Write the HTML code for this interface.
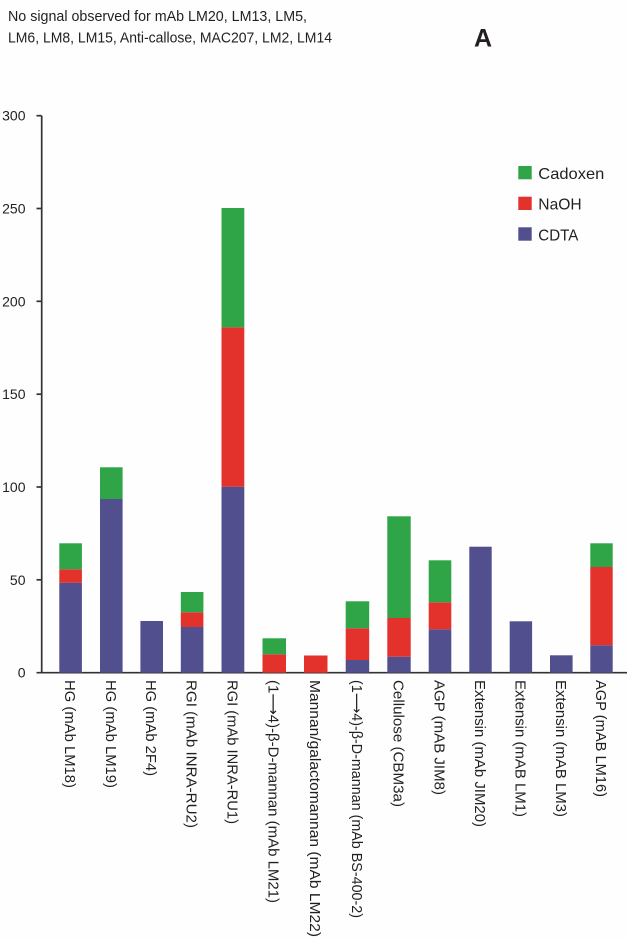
<!DOCTYPE html>
<html>
<head>
<meta charset="utf-8">
<style>
html,body{margin:0;padding:0;background:#fefefe;}
svg{display:block;}
text{font-family:"Liberation Sans","DejaVu Sans",sans-serif;fill:#231f20;}
</style>
</head>
<body>
<svg width="627" height="939" viewBox="0 0 627 939" xmlns="http://www.w3.org/2000/svg">
<rect x="0" y="0" width="627" height="939" fill="#fefefe"/>
<!-- header -->
<text x="8" y="20.8" font-size="15" textLength="299" lengthAdjust="spacingAndGlyphs">No signal observed for mAb LM20, LM13, LM5,</text>
<text x="8" y="42.7" font-size="15" textLength="324" lengthAdjust="spacingAndGlyphs">LM6, LM8, LM15, Anti-callose, MAC207, LM2, LM14</text>
<text x="474" y="46.7" font-size="25" font-weight="bold" fill="#000">A</text>

<!-- y axis -->
<g stroke="#333" stroke-width="1.7" fill="none">
<line x1="41.7" y1="115.7" x2="41.7" y2="672.7"/>
<line x1="36.5" y1="115.7" x2="41.7" y2="115.7"/>
<line x1="36.5" y1="208.5" x2="41.7" y2="208.5"/>
<line x1="36.5" y1="301.3" x2="41.7" y2="301.3"/>
<line x1="36.5" y1="394.2" x2="41.7" y2="394.2"/>
<line x1="36.5" y1="487" x2="41.7" y2="487"/>
<line x1="36.5" y1="579.8" x2="41.7" y2="579.8"/>
<line x1="36.5" y1="672.7" x2="627" y2="672.7"/>
</g>
<g font-size="14" text-anchor="end">
<text x="25.5" y="120.7">300</text>
<text x="25.5" y="213.5">250</text>
<text x="25.5" y="306.3">200</text>
<text x="25.5" y="399.2">150</text>
<text x="25.5" y="492">100</text>
<text x="25.5" y="584.8">50</text>
<text x="25.5" y="677.7">0</text>
</g>

<!-- bars -->
<g>
<rect x="59.3" y="582.7" width="22.6" height="90" fill="#524f8e"/>
<rect x="59.3" y="569.3" width="22.6" height="13.4" fill="#e2322b"/>
<rect x="59.3" y="543.3" width="22.6" height="26" fill="#2fa547"/>
<rect x="100" y="499" width="22.6" height="173.7" fill="#524f8e"/>
<rect x="100" y="467.3" width="22.6" height="31.7" fill="#2fa547"/>
<rect x="140.4" y="621" width="22.6" height="51.7" fill="#524f8e"/>
<rect x="180.8" y="627" width="22.6" height="45.7" fill="#524f8e"/>
<rect x="180.8" y="612.3" width="22.6" height="14.7" fill="#e2322b"/>
<rect x="180.8" y="592" width="22.6" height="20.3" fill="#2fa547"/>
<rect x="221.5" y="486.7" width="22.8" height="186" fill="#524f8e"/>
<rect x="221.5" y="327.3" width="22.8" height="159.4" fill="#e2322b"/>
<rect x="221.5" y="208" width="22.8" height="119.3" fill="#2fa547"/>
<rect x="262.5" y="654.3" width="23.5" height="18.4" fill="#e2322b"/>
<rect x="262.5" y="638.3" width="23.5" height="16" fill="#2fa547"/>
<rect x="304" y="655.5" width="23.5" height="17.2" fill="#e2322b"/>
<rect x="345.7" y="660" width="23.5" height="12.7" fill="#524f8e"/>
<rect x="345.7" y="628.3" width="23.5" height="31.7" fill="#e2322b"/>
<rect x="345.7" y="601.3" width="23.5" height="27" fill="#2fa547"/>
<rect x="387.3" y="656.7" width="23.4" height="16" fill="#524f8e"/>
<rect x="387.3" y="618" width="23.4" height="38.7" fill="#e2322b"/>
<rect x="387.3" y="516.3" width="23.4" height="101.7" fill="#2fa547"/>
<rect x="428.7" y="629.3" width="22.6" height="43.4" fill="#524f8e"/>
<rect x="428.7" y="602.3" width="22.6" height="27" fill="#e2322b"/>
<rect x="428.7" y="560.3" width="22.6" height="42" fill="#2fa547"/>
<rect x="469.3" y="546.7" width="22.4" height="126" fill="#524f8e"/>
<rect x="509.7" y="621.3" width="22.4" height="51.4" fill="#524f8e"/>
<rect x="550" y="655.3" width="22.6" height="17.4" fill="#524f8e"/>
<rect x="590.3" y="645.3" width="22.4" height="27.4" fill="#524f8e"/>
<rect x="590.3" y="567" width="22.4" height="78.3" fill="#e2322b"/>
<rect x="590.3" y="543.3" width="22.4" height="23.7" fill="#2fa547"/>
</g>

<!-- legend -->
<rect x="518.3" y="166" width="13.4" height="13.3" fill="#2fa547"/>
<rect x="518.3" y="196.7" width="13.4" height="13.3" fill="#e2322b"/>
<rect x="518.3" y="227.3" width="13.4" height="13.4" fill="#524f8e"/>
<g font-size="16">
<text x="538.3" y="178.8" textLength="66" lengthAdjust="spacingAndGlyphs">Cadoxen</text>
<text x="538.3" y="209.6" textLength="43.4" lengthAdjust="spacingAndGlyphs">NaOH</text>
<text x="538.3" y="240.3" textLength="40" lengthAdjust="spacingAndGlyphs">CDTA</text>
</g>

<!-- x labels -->
<g font-size="15">
<text transform="translate(65.1,680) rotate(90)" textLength="108" lengthAdjust="spacingAndGlyphs">HG (mAb LM18)</text>
<text transform="translate(105.8,680) rotate(90)" textLength="108" lengthAdjust="spacingAndGlyphs">HG (mAb LM19)</text>
<text transform="translate(146.2,680) rotate(90)" textLength="96" lengthAdjust="spacingAndGlyphs">HG (mAb 2F4)</text>
<text transform="translate(186.6,680) rotate(90)" textLength="148" lengthAdjust="spacingAndGlyphs">RGI (mAb INRA-RU2)</text>
<text transform="translate(227.4,680) rotate(90)" textLength="144" lengthAdjust="spacingAndGlyphs">RGI (mAb INRA-RU1)</text>
<text transform="translate(268.7,680) rotate(90)" textLength="223" lengthAdjust="spacingAndGlyphs">(1⟶4)-β-D-mannan (mAb LM21)</text>
<text transform="translate(310.2,680) rotate(90)" textLength="257" lengthAdjust="spacingAndGlyphs">Mannan/galactomannan (mAb LM22)</text>
<text transform="translate(351.9,680) rotate(90)" textLength="238" lengthAdjust="spacingAndGlyphs">(1⟶4)-β-D-mannan (mAb BS-400-2)</text>
<text transform="translate(393.5,680) rotate(90)" textLength="127" lengthAdjust="spacingAndGlyphs">Cellulose (CBM3a)</text>
<text transform="translate(434.5,680) rotate(90)" textLength="115" lengthAdjust="spacingAndGlyphs">AGP (mAB JIM8)</text>
<text transform="translate(475,680) rotate(90)" textLength="147" lengthAdjust="spacingAndGlyphs">Extensin (mAb JIM20)</text>
<text transform="translate(515.4,680) rotate(90)" textLength="137" lengthAdjust="spacingAndGlyphs">Extensin (mAB LM1)</text>
<text transform="translate(555.8,680) rotate(90)" textLength="137" lengthAdjust="spacingAndGlyphs">Extensin (mAB LM3)</text>
<text transform="translate(596,680) rotate(90)" textLength="117" lengthAdjust="spacingAndGlyphs">AGP (mAB LM16)</text>
</g>
</svg>
</body>
</html>
